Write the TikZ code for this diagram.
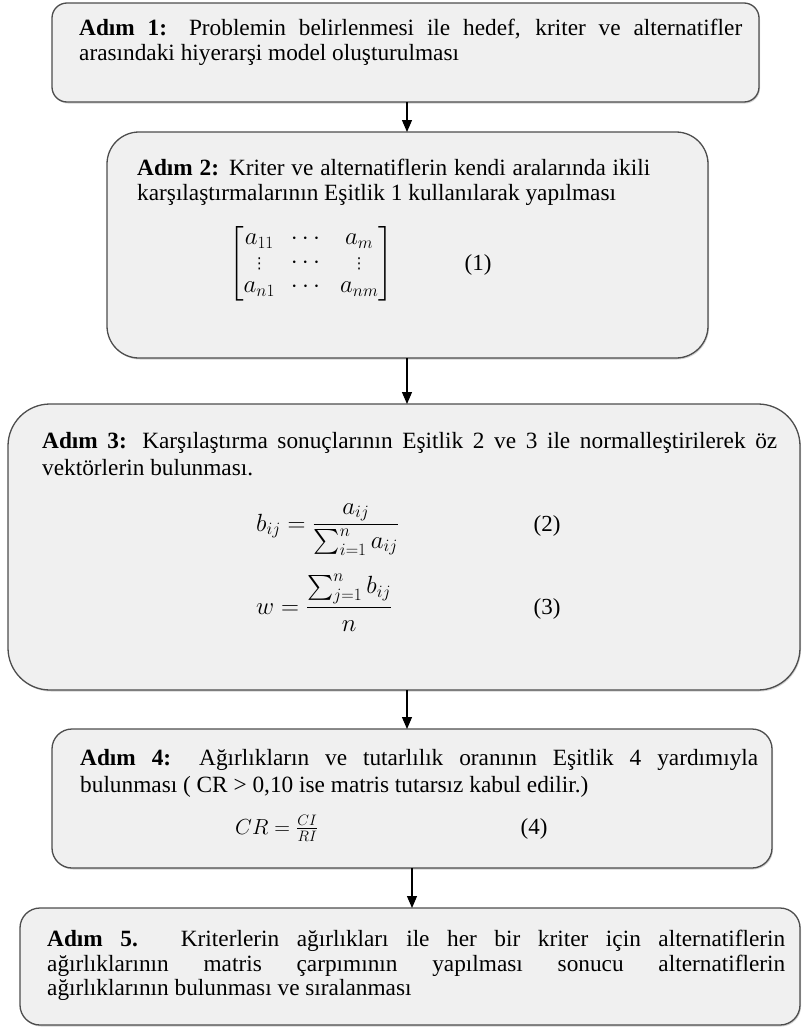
\documentclass[tikz,border=0pt]{standalone}
\usepackage{amsmath}
\usepackage{fontspec}
\setmainfont{Liberation Serif}
\newfontfamily\dvsans{DejaVu Sans}
\usetikzlibrary{arrows.meta,shadows}
\definecolor{boxfill}{HTML}{F0F0F0}
\definecolor{boxline}{HTML}{4D4D4D}
\newcommand{\vdotsglyph}{\text{\dvsans\fontsize{15}{15}\selectfont\char"22EE}}
\begin{document}
\begin{tikzpicture}[x=1pt,y=-1pt,
  box/.style={draw=boxline, line width=1.3pt, fill=boxfill, inner sep=0pt, outer sep=0pt,
    anchor=north west, drop shadow={shadow xshift=1pt, shadow yshift=-1.5pt, opacity=0.35}},
  txt/.style={anchor=north west, inner sep=0pt, align=justify},
  eq/.style={inner sep=0pt, font=\fontsize{23}{26}\selectfont},
  arr/.style={line width=1.2pt, -{Triangle[length=12pt,width=10pt]}}]
\useasboundingbox (0,0) rectangle (803,1028);
% boxes
\node[box, rounded corners=15pt, minimum width=707pt, minimum height=99pt] (b1) at (52,3) {};
\node[box, rounded corners=32pt, minimum width=601pt, minimum height=226pt] (b2) at (107,132) {};
\node[box, rounded corners=42pt, minimum width=792pt, minimum height=286pt] (b3) at (8,404) {};
\node[box, rounded corners=20pt, minimum width=720pt, minimum height=139pt] (b4) at (52,729) {};
\node[box, rounded corners=20pt, minimum width=780pt, minimum height=117pt] (b5) at (20,908) {};
% texts
\node[txt, text width=663pt, font=\fontsize{23.3}{25}\selectfont] (t1) at (79,19) {\textbf{Adım 1:} Problemin belirlenmesi ile hedef, kriter ve alternatifler\linebreak arasındaki hiyerarşi model oluşturulması};
\node[txt, text width=513pt, font=\fontsize{23.3}{25}\selectfont] (t2) at (137,159) {\textbf{Adım 2:} Kriter ve alternatiflerin kendi aralarında ikili\linebreak karşılaştırmalarının Eşitlik 1 kullanılarak yapılması};
\node[txt, text width=735pt, font=\fontsize{23.3}{27}\selectfont] (t3) at (42,432) {\textbf{Adım 3:} Karşılaştırma sonuçlarının Eşitlik 2 ve 3 ile normalleştirilerek öz\linebreak vektörlerin bulunması.};
\node[txt, text width=678pt, font=\fontsize{23.3}{27}\selectfont] (t4) at (80,749) {\textbf{Adım 4:} Ağırlıkların ve tutarlılık oranının Eşitlik 4 yardımıyla\linebreak bulunması ( CR > 0,10 ise matris tutarsız kabul edilir.)};
\node[txt, text width=738pt, font=\fontsize{23.3}{24.5}\selectfont] (t5) at (47,930) {\textbf{Adım 5.} Kriterlerin ağırlıkları ile her bir kriter için alternatiflerin\linebreak ağırlıklarının matris çarpımının yapılması sonucu alternatiflerin\linebreak ağırlıklarının bulunması ve sıralanması};
% equations
\node[eq, anchor=center] (m1) at (311,264) {\setlength{\arraycolsep}{8pt}\renewcommand{\arraystretch}{0.92}$\begin{bmatrix} a_{11} & \cdots & a_{m}\\ \vdotsglyph & \cdots & \vdotsglyph\\ a_{n1} & \cdots & a_{nm}\end{bmatrix}$};
\node[eq, anchor=center] (n1) at (478,265) {(1)};
\node[eq, anchor=base west] (e2) at (256,531) {$b_{ij} = \dfrac{a_{ij}}{\sum_{i=1}^{n} a_{ij}}$};
\node[eq, anchor=base] (n2) at (547,531) {(2)};
\node[eq, anchor=base west] (e3) at (256,614) {$w = \dfrac{\sum_{j=1}^{n} b_{ij}}{n}$};
\node[eq, anchor=base] (n3) at (547,614) {(3)};
\node[eq, anchor=base west, font=\fontsize{22.5}{26}\selectfont, scale=1.05, transform shape] (e4) at (235,834) {$CR = \frac{CI}{RI}$};
\node[eq, anchor=base] (n4) at (534,834) {(4)};
% connectors
\coordinate (ax1) at (407,0);
\coordinate (ax2) at (412,0);
\draw[arr] (b1.south -| ax1) -- (b2.north -| ax1);
\draw[arr] (b2.south -| ax1) -- (b3.north -| ax1);
\draw[arr] (b3.south -| ax1) -- (b4.north -| ax1);
\draw[arr] (b4.south -| ax2) -- (b5.north -| ax2);
\end{tikzpicture}
\end{document}
